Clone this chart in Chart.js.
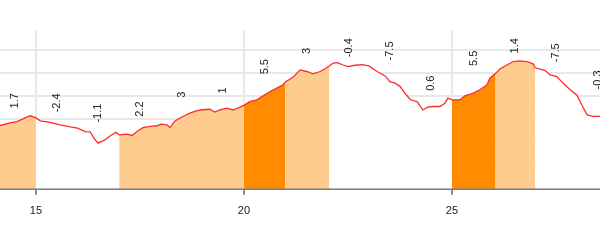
<!DOCTYPE html>
<html>
<head>
<meta charset="utf-8">
<script src="https://cdn.jsdelivr.net/npm/chart.js@4"></script>
<style>
  html, body { margin: 0; padding: 0; background: #fff; }
  #wrap { width: 600px; height: 240px; }
</style>
</head>
<body>
<div id="wrap"><canvas id="perfil"></canvas></div>
<script>
// Perfil: distancia (km) y altitud (m)
const distKm = [14.0, 14.135, 14.375, 14.54, 14.74, 14.86, 15.0, 15.10, 15.34, 15.58, 15.82, 16.0, 16.18, 16.30, 16.39, 16.49, 16.66, 16.78, 16.92, 17.0, 17.19, 17.31, 17.43, 17.57, 17.74, 17.91, 18.0, 18.15, 18.22, 18.34, 18.53, 18.70, 18.85, 19.0, 19.18, 19.30, 19.42, 19.59, 19.74, 19.90, 20.0, 20.14, 20.31, 20.46, 20.63, 20.79, 20.94, 21.0, 21.18, 21.35, 21.51, 21.66, 21.83, 21.95, 22.05, 22.14, 22.24, 22.38, 22.50, 22.67, 22.84, 23.0, 23.20, 23.39, 23.51, 23.63, 23.75, 23.87, 24.0, 24.16, 24.30, 24.42, 24.54, 24.71, 24.83, 24.90, 25.0, 25.19, 25.31, 25.50, 25.67, 25.84, 25.91, 26.05, 26.15, 26.32, 26.47, 26.63, 26.80, 26.95, 27.0, 27.24, 27.36, 27.52, 27.67, 27.84, 28.0, 28.13, 28.25, 28.39, 28.56, 28.7];
const altitud = [462, 473, 484, 490, 506, 515, 506, 493, 487, 476, 467, 462, 447, 446, 420, 397, 411, 428, 444, 433, 436, 430, 447, 464, 469, 472, 479, 476, 464, 493, 512, 526, 536, 541, 543, 531, 540, 548, 540, 552, 560, 576, 584, 601, 619, 634, 648, 662, 681, 713, 706, 696, 706, 718, 730, 742, 744, 734, 727, 733, 736, 730, 706, 687, 662, 656, 642, 612, 584, 576, 540, 552, 555, 555, 569, 591, 584, 584, 601, 612, 627, 648, 677, 698, 717, 734, 749, 752, 749, 739, 722, 710, 691, 684, 656, 627, 605, 558, 519, 512, 512, 512];

// Tramos y pendiente media (%)
const tramoLimites = [14, 15, 16, 17, 18, 19, 20, 21, 22.05, 23, 24, 25, 26.05, 27, 28, 29];
const pendientes = ["1.7", "-2.4", "-1.1", "2.2", "3", "1", "5.5", "3", "-0.4", "-7.5", "0.6", "5.5", "1.4", "-7.5", "-0.3"];

// Ejes
const xTicks = [15, 20, 25];
const yTicks = [200, 300, 400, 500, 600, 700, 800];

const puntos = distKm.map((d, i) => ({ x: d, y: altitud[i] }));

// Color segun pendiente
function colorTramo(p) {
  const v = Number(p);
  if (v >= 5) return "#ff8c00";
  if (v >= 1) return "#fecc8e";
  return "#ffffff";
}

// Junta tramos seguidos del mismo color (evita costuras en el relleno)
const grupos = [];
pendientes.forEach((p, i) => {
  const c = colorTramo(p);
  const ult = grupos[grupos.length - 1];
  if (ult && ult.color === c) ult.b = tramoLimites[i + 1];
  else grupos.push({ color: c, a: tramoLimites[i], b: tramoLimites[i + 1] });
});

const rellenos = grupos.map(g => ({
  data: puntos.filter(pt => pt.x >= g.a && pt.x <= g.b),
  fill: "start",
  backgroundColor: g.color,
  borderWidth: 0,
  pointRadius: 0,
  order: 2
}));

// Etiquetas de pendiente giradas encima de cada tramo
const etiquetasPlugin = {
  id: "etiquetas",
  afterDatasetsDraw(chart) {
    const { ctx, scales: { x, y } } = chart;
    ctx.save();
    ctx.font = "11px 'Liberation Sans', Arial, sans-serif";
    ctx.fillStyle = "#222";
    ctx.textAlign = "center";
    ctx.textBaseline = "middle";
    pendientes.forEach((p, i) => {
      const a = tramoLimites[i], b = tramoLimites[i + 1];
      const alts = puntos.filter(pt => pt.x >= a && pt.x <= b).map(pt => pt.y);
      const px = x.getPixelForValue((a + b) / 2);
      const py = y.getPixelForValue(Math.max(...alts)) - 15;
      ctx.save();
      ctx.translate(px, py);
      ctx.rotate(-Math.PI / 2);
      ctx.fillText(p, 0, 0);
      ctx.restore();
    });
    ctx.restore();
  }
};

new Chart(document.getElementById("perfil"), {
  type: "line",
  data: {
    datasets: [
      {
        data: puntos,
        borderColor: "#ff2b2b",
        borderWidth: 1.3,
        pointRadius: 0,
        fill: false,
        tension: 0,
        order: 0
      },
      ...rellenos
    ]
  },
  options: {
    responsive: true,
    maintainAspectRatio: false,
    animation: false,
    layout: { padding: { top: 30, left: 0, right: 0, bottom: 12 } },
    plugins: { legend: { display: false }, tooltip: { enabled: false } },
    scales: {
      x: {
        type: "linear",
        min: 14.135,
        max: 28.558,
        afterBuildTicks: s => { s.ticks = xTicks.map(v => ({ value: v })); },
        grid: { color: "#e8e8e8", lineWidth: 2, tickColor: "#666", tickLength: 6, tickWidth: 1.5 },
        border: { color: "#808080", width: 2 },
        ticks: { color: "#222", padding: 10, maxRotation: 0, font: { size: 11, family: "'Liberation Sans', Arial, sans-serif" } }
      },
      y: {
        min: 200,
        max: 885,
        afterBuildTicks: s => { s.ticks = yTicks.map(v => ({ value: v })); },
        grid: { color: "#e8e8e8", lineWidth: 2, drawTicks: false },
        border: { display: false },
        ticks: { display: false }
      }
    }
  },
  plugins: [etiquetasPlugin]
});
</script>
</body>
</html>
